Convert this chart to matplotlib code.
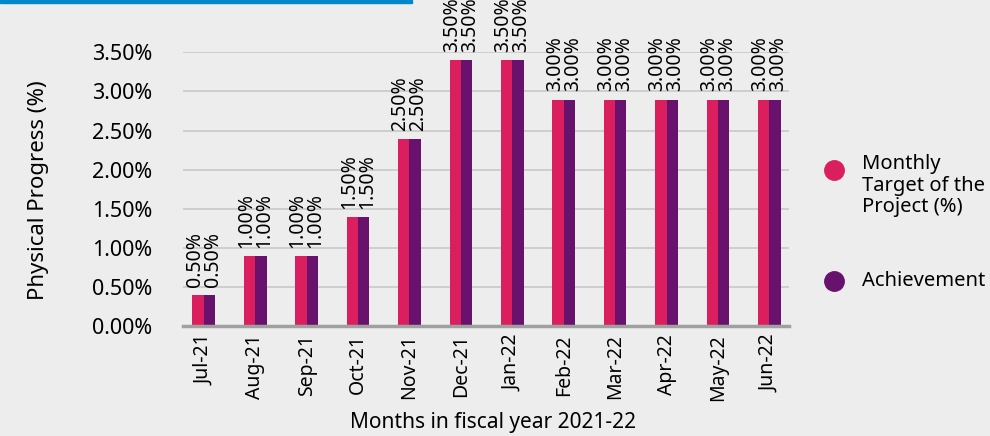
import numpy as np
import matplotlib.pyplot as plt
from matplotlib.patches import Rectangle

plt.rcParams['font.family'] = ['Noto Sans', 'DejaVu Sans']

# Data
months = ['Jul-21', 'Aug-21', 'Sep-21', 'Oct-21', 'Nov-21', 'Dec-21',
          'Jan-22', 'Feb-22', 'Mar-22', 'Apr-22', 'May-22', 'Jun-22']
# bar heights as drawn in the picture (%)
target_bars = [0.40, 0.89, 0.89, 1.39, 2.39, 3.40, 3.40, 2.89, 2.89, 2.89, 2.89, 2.89]
achieved_bars = [0.40, 0.89, 0.89, 1.39, 2.39, 3.40, 3.40, 2.89, 2.89, 2.89, 2.89, 2.89]
# data labels as printed above the bars (%)
target_labels = [0.50, 1.00, 1.00, 1.50, 2.50, 3.50, 3.50, 3.00, 3.00, 3.00, 3.00, 3.00]
achieved_labels = [0.50, 1.00, 1.00, 1.50, 2.50, 3.50, 3.50, 3.00, 3.00, 3.00, 3.00, 3.00]
yticks = [0.0, 0.5, 1.0, 1.5, 2.0, 2.5, 3.0, 3.5]

pink = '#DB1E5E'
purple = '#68126E'
bg = '#EDEDED'
fs = 14

fig = plt.figure(figsize=(9.9, 4.36), dpi=100, facecolor=bg)
ax = fig.add_axes([182.7 / 990, 1 - 326 / 436, (789 - 182.7) / 990, (326 - 52.3) / 436])
ax.set_facecolor(bg)

x = np.arange(len(months))
w = 0.22
ax.bar(x - w / 2, target_bars, w, color=pink, zorder=3)
ax.bar(x + w / 2, achieved_bars, w, color=purple, zorder=3)

for i in range(len(months)):
    ax.text(x[i] - 0.175, target_labels[i], f'{target_labels[i]:.2f}%',
            rotation=90, ha='center', va='bottom', fontsize=fs, clip_on=False)
    ax.text(x[i] + 0.175, achieved_labels[i], f'{achieved_labels[i]:.2f}%',
            rotation=90, ha='center', va='bottom', fontsize=fs, clip_on=False)

ax.set_xlim(-0.41, 11.38)
ax.set_ylim(0, 3.5)
ax.set_yticks(yticks)
ax.set_yticklabels([f'{v:.2f}%' for v in yticks], fontsize=15.5)
ax.set_xticks(x)
ax.set_xticklabels(months, rotation=90, fontsize=fs)
ax.tick_params(axis='y', length=0, pad=22)
ax.tick_params(axis='x', length=0, pad=6)
ax.grid(axis='y', color='#C8C8C8', linewidth=1.2, zorder=0)
for s in ['top', 'right', 'left']:
    ax.spines[s].set_visible(False)
ax.spines['bottom'].set_color('#A0A0A0')
ax.spines['bottom'].set_linewidth(2.5)
ax.spines['bottom'].set_zorder(4)

ax.set_ylabel('Physical Progress (%)', fontsize=16)
ax.set_xlabel('Months in fiscal year 2021-22', fontsize=15)
ax.yaxis.set_label_coords(-0.22, 0.495)
ax.xaxis.set_label_coords(0.512, -0.315)

# legend
fig.add_artist(plt.Line2D([833.5 / 990], [1 - 169.5 / 436], marker='o', markersize=14,
                          color=pink, linestyle='none'))
fig.add_artist(plt.Line2D([833.5 / 990], [1 - 280.5 / 436], marker='o', markersize=14,
                          color=purple, linestyle='none'))
fig.text(862 / 990, 1 - 154 / 436, 'Monthly\nTarget of the\nProject (%)', fontsize=14.5,
         va='top', ha='left', linespacing=1.1)
fig.text(862 / 990, 1 - 281 / 436, 'Achievement', fontsize=14.5, va='center', ha='left')

# cut-off header band
fig.add_artist(Rectangle((0, 1 - 3 / 436), 412 / 990, 3 / 436, transform=fig.transFigure,
                         color='#0088CC'))

fig.savefig('out.png', dpi=100, facecolor=bg)
